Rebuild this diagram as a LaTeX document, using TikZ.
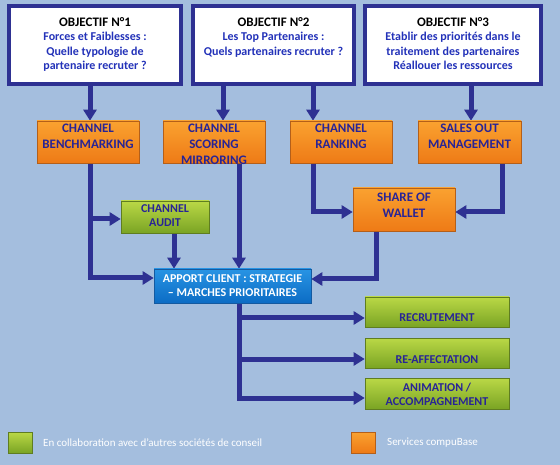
\documentclass[tikz,border=0pt]{standalone}
\usepackage{fontspec}
\setmainfont{Carlito}
\usetikzlibrary{arrows.meta,backgrounds}
\definecolor{bgc}{RGB}{164,190,222}
\definecolor{lnc}{RGB}{46,49,146}
\definecolor{txo}{RGB}{40,36,150}
\definecolor{txb}{RGB}{35,50,185}
\definecolor{ortop}{RGB}{250,162,48}
\definecolor{orbot}{RGB}{238,122,22}
\definecolor{ordr}{RGB}{180,95,25}
\definecolor{grtop}{RGB}{186,216,70}
\definecolor{grbot}{RGB}{122,164,36}
\definecolor{grdr}{RGB}{95,125,32}
\definecolor{bltop}{RGB}{40,148,228}
\definecolor{blbot}{RGB}{12,108,196}
\definecolor{bldr}{RGB}{20,90,160}
\newcommand\tbox[4]{\parbox[c][#1][t]{#2}{\centering\rule{0pt}{#3}#4}}
\newcommand\blu{\color{txb}\fontsize{12}{14.5}\selectfont}
\tikzset{
  objbox/.style={draw=lnc, line width=4pt, fill=white, inner sep=0pt,
    font=\bfseries\fontsize{13}{14.5}\selectfont, text=black},
  orbox/.style={draw=ordr, line width=0.6pt, top color=ortop, bottom color=orbot,
    inner sep=0pt, font=\bfseries\fontsize{13}{16}\selectfont, text=txo},
  grbox/.style={draw=grdr, line width=0.6pt, top color=grtop, bottom color=grbot,
    inner sep=0pt, font=\bfseries\fontsize{12}{14}\selectfont, text=txo},
  blbox/.style={draw=bldr, line width=0.6pt, top color=bltop, bottom color=blbot,
    inner sep=0pt, font=\bfseries\fontsize{12}{14}\selectfont, text=white},
  arr/.style={draw=lnc, line width=5pt, -{Triangle[width=13pt,length=11pt]}},
  legsq/.style={inner sep=0pt, minimum width=24pt, minimum height=21pt},
  legtx/.style={anchor=west, inner sep=0pt, text=white, font=\fontsize{11}{13}\selectfont}
}
\begin{document}
\begin{tikzpicture}[x=1pt,y=-1pt]
\useasboundingbox (0,0) rectangle (560,465);
\begin{scope}[on background layer]
\fill[bgc] (0,0) rectangle (560,465);
\end{scope}
% objectives
\node[objbox] (obj1) at (95,45) {\tbox{78pt}{172pt}{20.2pt}{OBJECTIF N°1\\\blu Forces et Faiblesses :\\Quelle typologie de\\partenaire recruter ?}};
\node[objbox] (obj2) at (273.5,45) {\tbox{78pt}{161pt}{20.2pt}{OBJECTIF N°2\\\blu Les Top Partenaires :\\Quels partenaires recruter ?}};
\node[objbox] (obj3) at (453,45) {\tbox{78pt}{176pt}{20.2pt}{OBJECTIF N°3\\\blu Etablir des priorités dans le\\traitement des partenaires\\Réallouer les ressources}};
% orange row
\node[orbox] (bench) at (88,142) {\tbox{42pt}{102pt}{11.2pt}{CHANNEL\\BENCHMARKING}};
\node[orbox] (scor) at (214,142) {\tbox{42pt}{102pt}{11.2pt}{CHANNEL\\SCORING\\MIRRORING}};
\node[orbox] (rank) at (341,142) {\tbox{42pt}{102pt}{11.2pt}{CHANNEL\\RANKING}};
\node[orbox] (sales) at (469.5,142) {\tbox{42pt}{103pt}{11.2pt}{SALES OUT\\MANAGEMENT}};
\node[orbox] (share) at (404,209.5) {\tbox{43pt}{102pt}{13.2pt}{SHARE OF\\WALLET}};
% audit and apport
\node[grbox] (audit) at (165,217) {\tbox{32pt}{88pt}{12pt}{CHANNEL\\AUDIT}};
\node[blbox] (apport) at (232.5,286) {\tbox{34pt}{157pt}{14pt}{APPORT CLIENT : STRATEGIE\\– MARCHES PRIORITAIRES}};
% green outcomes
\node[grbox] (recr) at (437,312) {\tbox{30pt}{144pt}{25pt}{RECRUTEMENT}};
\node[grbox] (reaff) at (437,353) {\tbox{30pt}{144pt}{25pt}{RE-AFFECTATION}};
\node[grbox] (anim) at (437,393.5) {\tbox{31pt}{144pt}{13pt}{ANIMATION /\\ACCOMPAGNEMENT}};
% legend
\node[legsq, draw=grdr, line width=0.6pt, top color=grtop, bottom color=grbot] (lg1) at (20,442.5) {};
\node[legtx] (lt1) at (43,443) {En collaboration avec d’autres sociétés de conseil};
\node[legsq, draw=ordr, line width=0.6pt, top color=ortop, bottom color=orbot] (lg2) at (363.5,442.5) {};
\node[legtx] (lt2) at (387,443) {Services compuBase};
% connectors
\begin{scope}[on background layer]
\draw[arr] (90,0 |- obj1.south) -- (90,0 |- bench.north);
\draw[arr] (223,0 |- obj2.south) -- (223,0 |- scor.north);
\draw[arr] (313,0 |- obj2.south) -- (313,0 |- rank.north);
\draw[arr] (471,0 |- obj3.south) -- (471,0 |- sales.north);
\draw[arr] (90,0 |- bench.south) |- (apport.west |- 0,278);
\coordinate (j1) at (90,219);
\draw[arr] (j1) -- (audit.west |- j1);
\draw[arr] (174,0 |- audit.south) -- (174,0 |- apport.north);
\draw[arr] (239,0 |- scor.south) -- (239,0 |- apport.north);
\draw[arr] (313,0 |- rank.south) |- (share.west |- 0,212);
\draw[arr] (502,0 |- sales.south) |- (share.east |- 0,212);
\draw[arr] (376,0 |- share.south) |- (apport.east |- 0,279);
\draw[arr] (239,0 |- apport.south) |- (anim.west |- 0,398);
\coordinate (j2) at (239,318);
\coordinate (j3) at (239,359);
\draw[arr] (j2) -- (recr.west |- j2);
\draw[arr] (j3) -- (reaff.west |- j3);
\end{scope}
\end{tikzpicture}
\end{document}
